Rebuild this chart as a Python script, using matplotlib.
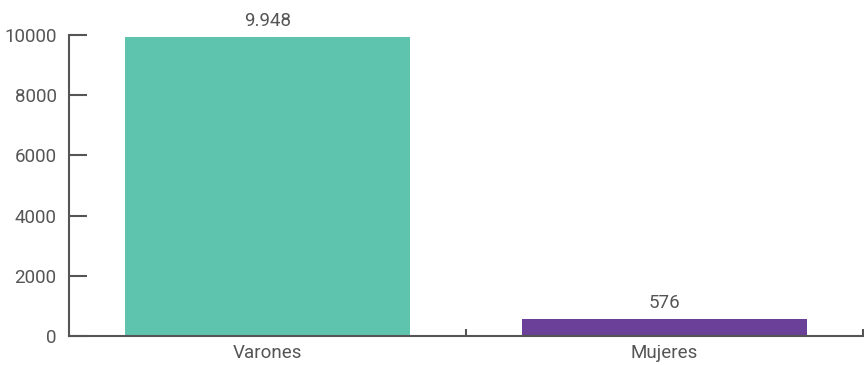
import matplotlib
matplotlib.use("Agg")
import matplotlib.pyplot as plt
from matplotlib import font_manager

categorias = ["Varones", "Mujeres"]
valores = [9948, 576]
etiquetas = ["9.948", "576"]
colores = ["#5FC4AE", "#6B4099"]
yticks = [0, 2000, 4000, 6000, 8000, 10000]

nombres = {f.name for f in font_manager.fontManager.ttflist}
fuente = "Liberation Sans Narrow" if "Liberation Sans Narrow" in nombres else "Roboto"
plt.rcParams["font.family"] = [fuente, "DejaVu Sans"]

gris = "#555555"

fig = plt.figure(figsize=(8.64, 3.65), dpi=100)
ax = fig.add_axes([69 / 864, 29 / 365, 794 / 864, 301 / 365])

x = list(range(len(categorias)))
ax.bar(x, valores, width=0.72, color=colores)

for xi, v, t in zip(x, valores, etiquetas):
    ax.annotate(t, (xi, v), xytext=(0, 5), textcoords="offset points",
                ha="center", va="bottom", fontsize=13.5, color=gris)

ax.set_xlim(-0.5, len(categorias) - 0.5)
ax.set_ylim(0, 10000)
ax.set_xticks(x)
ax.set_xticklabels(categorias, fontsize=13.5, color=gris)
ax.set_xticks([i + 0.5 for i in x], minor=True)
ax.tick_params(axis="x", which="major", length=0, pad=6)
ax.tick_params(axis="x", which="minor", direction="in", length=5, width=1.5, color=gris)

ax.set_yticks(yticks)
ax.set_yticklabels([str(t) for t in yticks], fontsize=13.5, color=gris)
ax.tick_params(axis="y", direction="in", length=13, width=1.5, color=gris, pad=9)

for s in ["top", "right"]:
    ax.spines[s].set_visible(False)
for s in ["left", "bottom"]:
    ax.spines[s].set_color(gris)
    ax.spines[s].set_linewidth(1.5)

fig.savefig("out.png", dpi=100)
